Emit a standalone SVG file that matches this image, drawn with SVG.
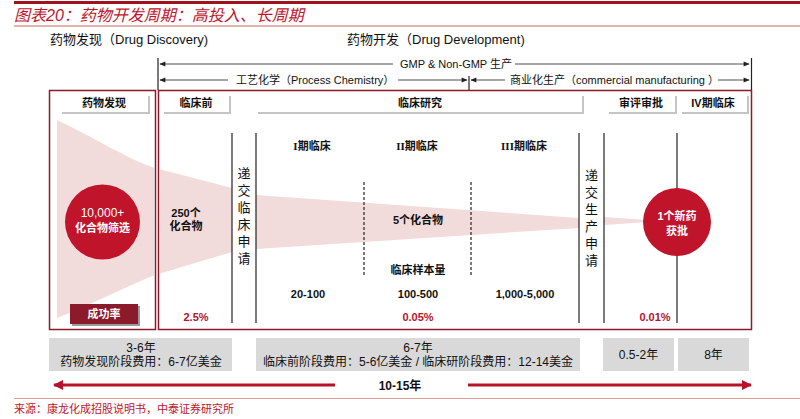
<svg xmlns="http://www.w3.org/2000/svg" width="800" height="419" viewBox="0 0 800 419">
<defs>
<style>
text{font-family:"Liberation Sans","Noto Sans CJK SC",sans-serif;fill:#111;}
.t{font-size:11px;font-weight:bold;text-anchor:middle;}
.h{font-size:13px;}
.v{font-size:13px;text-anchor:middle;}
.b{font-size:11px;font-weight:bold;text-anchor:middle;}
.pct{font-size:11px;font-weight:bold;text-anchor:middle;fill:#B5122B;}
.w{fill:#fff;font-size:11px;font-weight:bold;text-anchor:middle;}
.g{font-size:12px;text-anchor:middle;}
.box{fill:none;stroke:#8B1A2B;stroke-width:1.5;}
.vl{stroke:#222;stroke-width:1.2;}
.dl{stroke:#222;stroke-width:1.2;stroke-dasharray:3,2;}
.al{stroke:#222;stroke-width:0.8;}
.sh{fill:#c4c4c4;}
.tab{fill:#fff;}
.grey{fill:#D9D9D9;}
</style>
<marker id="ah" viewBox="0 0 10 10" refX="9" refY="5" markerWidth="7" markerHeight="6" orient="auto-start-reverse" markerUnits="userSpaceOnUse">
<path d="M0,1 L10,5 L0,9 Z" fill="#222"/>
</marker>
<marker id="rh" viewBox="0 0 10 10" refX="9" refY="5" markerWidth="12" markerHeight="10" orient="auto-start-reverse" markerUnits="userSpaceOnUse">
<path d="M0,0 L10,5 L0,10 Z" fill="#B5122B"/>
</marker>
</defs>

<g id="title">
<line x1="14" y1="2.5" x2="800" y2="2.5" stroke="#A0121F" stroke-width="3"/>
<text x="14" y="21" style="font-size:16px;font-style:italic;fill:#C0142B;">图表20：药物开发周期：高投入、长周期</text>
<line x1="14" y1="26" x2="800" y2="26" stroke="#C86464" stroke-width="1"/>
</g>

<g id="headers">
<text class="h" x="50" y="44">药物发现（Drug Discovery)</text>
<text class="h" x="347" y="44">药物开发（Drug Development)</text>
</g>

<g id="funnel">
<path d="M57,120 C90,135 125,158 155,168 L232,188 L256,195 L579,218 L604,217 L662,221 L604,225 L579,228 L256,249 L232,252 L155,275 C125,287 90,305 57,318 Z" fill="#F2DCDB"/>
<rect x="154" y="100" width="6" height="230" fill="#fff"/>
<rect x="232" y="133" width="24" height="190" fill="#fff"/>
<rect x="579" y="133" width="25" height="190" fill="#fff"/>
</g>

<g id="connectors">
<line class="vl" x1="158" y1="58" x2="158" y2="90"/>
<line class="vl" x1="751.5" y1="58" x2="751.5" y2="90"/>
<line class="al" x1="160" y1="64" x2="393" y2="64" marker-start="url(#ah)"/>
<line class="al" x1="515" y1="64" x2="749" y2="64" marker-end="url(#ah)"/>
<line class="al" x1="160" y1="80" x2="228" y2="80" marker-start="url(#ah)"/>
<line class="al" x1="398" y1="80" x2="467" y2="80" marker-end="url(#ah)"/>
<line class="vl" x1="469" y1="76" x2="469" y2="90"/>
<line class="al" x1="471" y1="80" x2="505" y2="80" marker-start="url(#ah)"/>
<line class="al" x1="718" y1="80" x2="749" y2="80" marker-end="url(#ah)"/>
<line class="vl" x1="232" y1="133" x2="232" y2="323"/>
<line class="vl" x1="256" y1="133" x2="256" y2="323"/>
<line class="vl" x1="579" y1="133" x2="579" y2="323"/>
<line class="vl" x1="604" y1="133" x2="604" y2="323"/>
<line class="vl" x1="677" y1="133" x2="677" y2="323"/>
<line class="dl" x1="364" y1="182" x2="364" y2="275"/>
<line class="dl" x1="471" y1="182" x2="471" y2="275"/>
<line x1="54" y1="385" x2="335" y2="385" stroke="#B5122B" stroke-width="3" marker-start="url(#rh)"/>
<line x1="468" y1="385" x2="751" y2="385" stroke="#B5122B" stroke-width="3" marker-end="url(#rh)"/>
</g>

<g id="arrow-labels">
<text x="400" y="68" style="font-size:11px;">GMP &amp; Non-GMP 生产</text>
<text x="236" y="84" style="font-size:11px;">工艺化学（Process Chemistry）</text>
<text x="510" y="84" style="font-size:11px;">商业化生产（commercial manufacturing ）</text>
</g>

<g id="discovery-box">
<rect class="box" x="49.5" y="90.5" width="106" height="239"/>
<rect class="sh" x="62" y="96" width="88" height="18"/>
<rect class="tab" x="60" y="94" width="88" height="18"/>
<text class="t" x="104" y="107">药物发现</text>
</g>

<g id="development-box">
<rect class="box" x="158.5" y="90.5" width="593" height="239"/>
</g>

<g id="tab-preclinical">
<rect class="sh" x="164" y="96" width="67" height="18"/>
<rect class="tab" x="162" y="94" width="67" height="18"/>
<text class="t" x="196" y="107">临床前</text>
</g>
<g id="tab-clinical">
<rect class="sh" x="258" y="96" width="326" height="18"/>
<rect class="tab" x="256" y="94" width="326" height="18"/>
<text class="t" x="420" y="107">临床研究</text>
</g>
<g id="tab-review">
<rect class="sh" x="609" y="96" width="68" height="18"/>
<rect class="tab" x="607" y="94" width="68" height="18"/>
<text class="t" x="641" y="107">审评审批</text>
</g>
<g id="tab-phase4">
<rect class="sh" x="682" y="96" width="67" height="18"/>
<rect class="tab" x="680" y="94" width="67" height="18"/>
<text class="t" x="713" y="107">IV期临床</text>
</g>

<g id="circle-start">
<circle cx="102.5" cy="222" r="37.5" fill="#C0142B"/>
<text class="w" x="102.5" y="217" style="font-weight:normal;font-size:12px;">10,000+</text>
<text class="w" x="102.5" y="232">化合物筛选</text>
</g>

<g id="circle-end">
<circle cx="677" cy="222" r="34" fill="#C0142B"/>
<text class="w" x="677" y="220">1个新药</text>
<text class="w" x="677" y="235">获批</text>
</g>

<g id="stage-labels">
<text class="b" x="186" y="217">250个</text>
<text class="b" x="186" y="230">化合物</text>
<text class="b" x="312" y="150"><tspan style="font-family:'Liberation Serif',serif;">I</tspan>期临床</text>
<text class="b" x="417" y="150"><tspan style="font-family:'Liberation Serif',serif;">II</tspan>期临床</text>
<text class="b" x="524" y="150"><tspan style="font-family:'Liberation Serif',serif;">III</tspan>期临床</text>
<text class="b" x="418" y="224">5个化合物</text>
<text class="b" x="418" y="274">临床样本量</text>
<text class="b" x="308" y="298">20-100</text>
<text class="b" x="418" y="298">100-500</text>
<text class="b" x="525" y="298">1,000-5,000</text>
</g>

<g id="submit-ind">
<text class="v" x="244" y="178">递</text>
<text class="v" x="244" y="195">交</text>
<text class="v" x="244" y="212">临</text>
<text class="v" x="244" y="229">床</text>
<text class="v" x="244" y="246">申</text>
<text class="v" x="244" y="263">请</text>
</g>
<g id="submit-nda">
<text class="v" x="591.5" y="180">递</text>
<text class="v" x="591.5" y="197">交</text>
<text class="v" x="591.5" y="214">生</text>
<text class="v" x="591.5" y="231">产</text>
<text class="v" x="591.5" y="248">申</text>
<text class="v" x="591.5" y="265">请</text>
</g>

<g id="success-rate">
<rect x="72" y="306" width="68" height="20" fill="#999"/>
<rect x="70" y="304" width="68" height="20" fill="#8B1A2B"/>
<text class="w" x="104" y="318">成功率</text>
<text class="pct" x="196" y="321">2.5%</text>
<text class="pct" x="418" y="321">0.05%</text>
<text class="pct" x="655" y="321">0.01%</text>
</g>

<g id="cost-discovery">
<rect class="grey" x="49" y="338" width="183" height="33"/>
<text class="g" x="141" y="352">3-6年</text>
<text class="g" x="141" y="366">药物发现阶段费用：6-7亿美金</text>
</g>
<g id="cost-development">
<rect class="grey" x="256" y="338" width="324" height="33"/>
<text class="g" x="418" y="352">6-7年</text>
<text class="g" x="418" y="366">临床前阶段费用：5-6亿美金 / 临床研阶段费用：12-14美金</text>
</g>
<g id="cost-review">
<rect class="grey" x="603" y="338" width="71" height="33"/>
<text class="g" x="638.5" y="359">0.5-2年</text>
</g>
<g id="cost-phase4">
<rect class="grey" x="678" y="338" width="71" height="33"/>
<text class="g" x="713.5" y="359">8年</text>
</g>

<g id="total">
<text x="400" y="390" style="font-size:12px;font-weight:bold;text-anchor:middle;">10-15年</text>
</g>

<g id="source">
<line x1="14" y1="398.5" x2="800" y2="398.5" stroke="#E09A9A" stroke-width="1"/>
<text x="14" y="413" style="font-size:11px;fill:#C0142B;">来源：康龙化成招股说明书，中泰证券研究所</text>
</g>
</svg>
